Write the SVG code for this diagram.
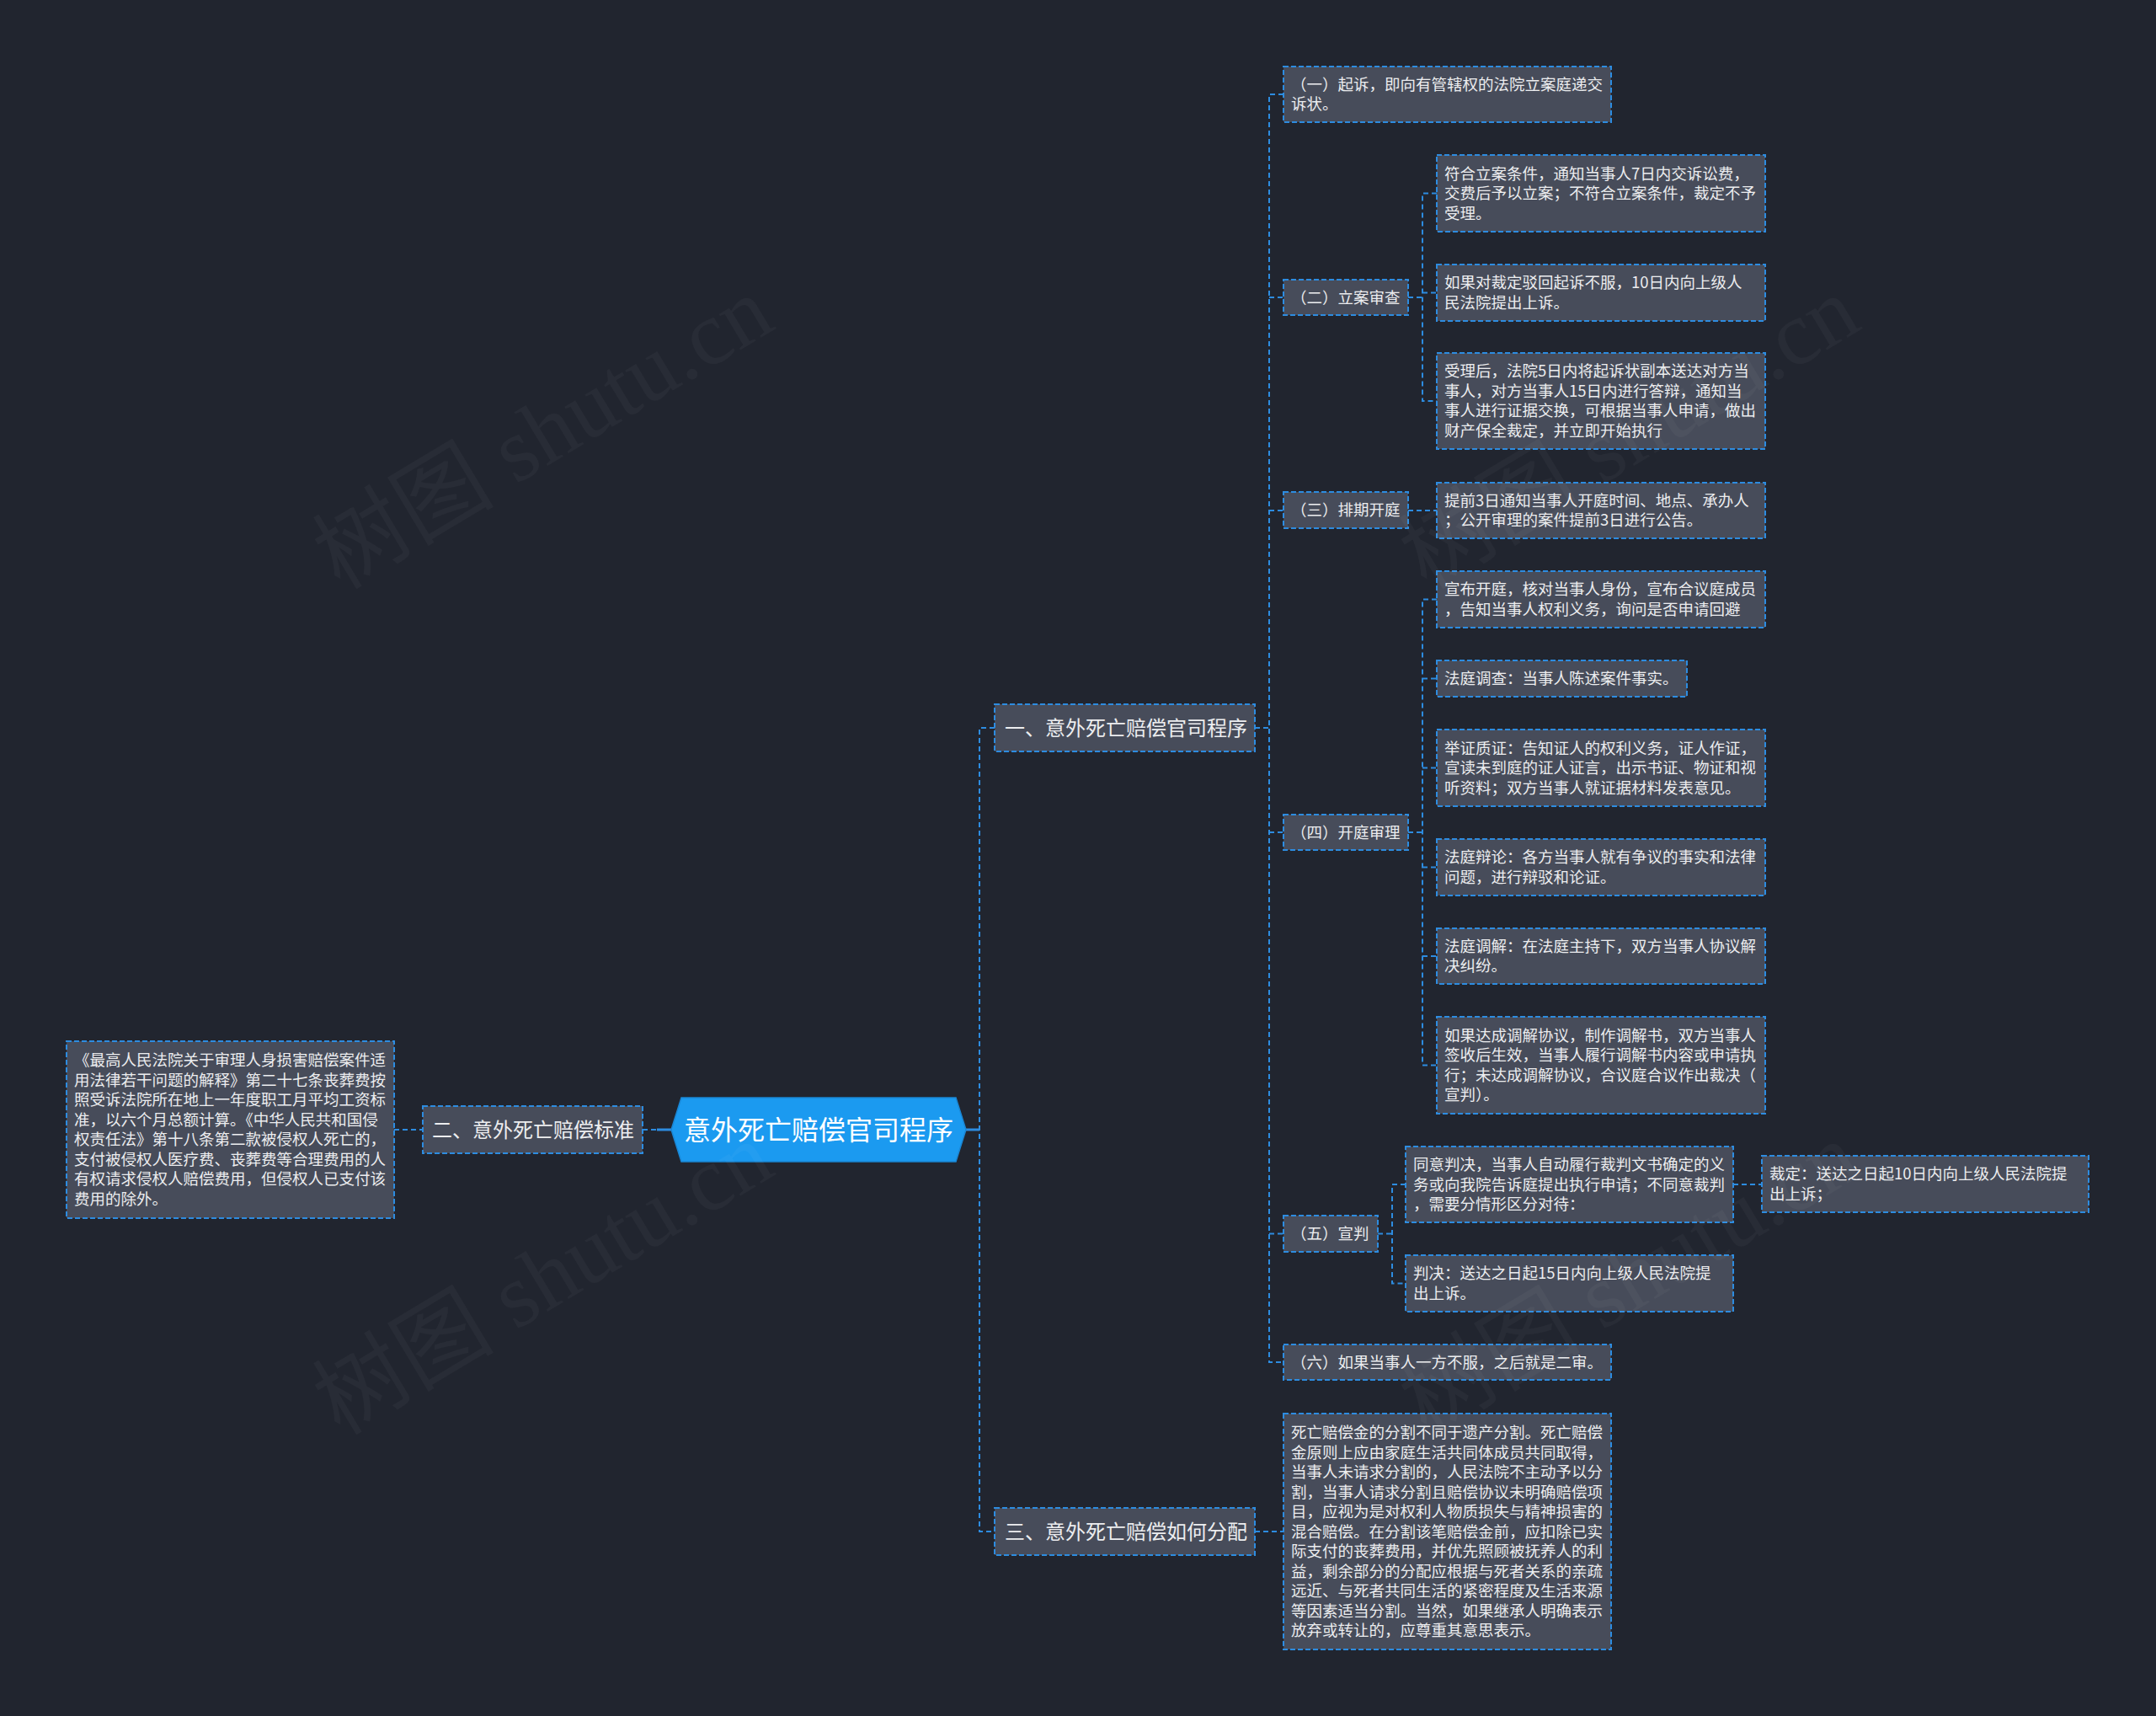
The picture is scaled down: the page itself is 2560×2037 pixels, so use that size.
<svg xmlns="http://www.w3.org/2000/svg" width="2560" height="2037" viewBox="0 0 2560 2037">
<style>
.bg{fill:#21252f}
.nd{fill:#474c5a;stroke:#2d8ce0;stroke-width:2;stroke-dasharray:6 3}
.t{font-family:"Noto Sans CJK SC","Microsoft YaHei",sans-serif;font-size:18.5px;fill:#ecedef}
.t1{font-family:"Noto Sans CJK SC","Microsoft YaHei",sans-serif;font-size:24px;fill:#ecedef}
.tr{font-family:"Noto Sans CJK SC","Microsoft YaHei",sans-serif;font-size:32px;fill:#ffffff}
.c{fill:none;stroke:#2d8ce0;stroke-width:2;stroke-dasharray:6 4}
.cs{fill:none;stroke:#2d8ce0;stroke-width:3}
.wm{font-family:"Liberation Serif","Noto Sans CJK SC",serif;font-size:108px;fill:#ffffff;fill-opacity:0.035}
</style>
<rect class="bg" x="0" y="0" width="2560" height="2037"/>

<g id="connectors">
<path class="cs" d="M780 1341H797"/>
<path class="c" d="M763 1341H780"/>
<path class="c" d="M468 1341H502"/>
<path class="cs" d="M1147 1341H1163"/>
<path class="c" d="M1181 864H1163V1818H1181"/>
<path class="c" d="M1490 864H1507"/>
<path class="c" d="M1524 112H1507V1617H1524"/>
<path class="c" d="M1507 353H1524M1507 606H1524M1507 988H1524M1507 1464.5H1524"/>
<path class="c" d="M1672 353H1689"/>
<path class="c" d="M1706 229.5H1689V476H1706M1689 347.5H1706"/>
<path class="c" d="M1672 606H1706"/>
<path class="c" d="M1672 988H1689"/>
<path class="c" d="M1706 711.5H1689V1264.5H1706M1689 805.5H1706M1689 911.5H1706M1689 1029.5H1706M1689 1135H1706"/>
<path class="c" d="M1636 1464.5H1653"/>
<path class="c" d="M1669 1406H1653V1523.5H1669"/>
<path class="c" d="M2058 1406H2092"/>
<path class="c" d="M1490 1818H1524"/>
</g>

<g id="root">
<polygon points="809,1303 1135,1303 1147,1341 1135,1379 809,1379 797,1341" fill="#1b9af0" stroke="#1a86d4" stroke-width="1.5"/>
<text class="tr" x="972" y="1353" text-anchor="middle">意外死亡赔偿官司程序</text>
</g>

<g id="n-b1">
<rect class="nd" x="1181" y="836" width="309" height="56"/>
<text class="t1" x="1193" y="873">一、意外死亡赔偿官司程序</text>
</g>
<g id="n-b2">
<rect class="nd" x="502" y="1313" width="261" height="56"/>
<text class="t1" x="513" y="1350">二、意外死亡赔偿标准</text>
</g>
<g id="n-b3">
<rect class="nd" x="1181" y="1790" width="309" height="56"/>
<text class="t1" x="1193" y="1827">三、意外死亡赔偿如何分配</text>
</g>

<g id="n-b2-1">
<rect class="nd" x="79" y="1236" width="389" height="210"/>
<text class="t"><tspan x="88" y="1265.25">《最高人民法院关于审理人身损害赔偿案件适</tspan><tspan x="88" y="1288.75">用法律若干问题的解释》第二十七条丧葬费按</tspan><tspan x="88" y="1312.25">照受诉法院所在地上一年度职工月平均工资标</tspan><tspan x="88" y="1335.75">准，以六个月总额计算。《中华人民共和国侵</tspan><tspan x="88" y="1359.25">权责任法》第十八条第二款被侵权人死亡的，</tspan><tspan x="88" y="1382.75">支付被侵权人医疗费、丧葬费等合理费用的人</tspan><tspan x="88" y="1406.25">有权请求侵权人赔偿费用，但侵权人已支付该</tspan><tspan x="88" y="1429.75">费用的除外。</tspan></text>
</g>

<g id="n-b3-1">
<rect class="nd" x="1524" y="1678" width="389" height="280"/>
<text class="t"><tspan x="1533" y="1707">死亡赔偿金的分割不同于遗产分割。死亡赔偿</tspan><tspan x="1533" y="1730.5">金原则上应由家庭生活共同体成员共同取得，</tspan><tspan x="1533" y="1754">当事人未请求分割的，人民法院不主动予以分</tspan><tspan x="1533" y="1777.5">割，当事人请求分割且赔偿协议未明确赔偿项</tspan><tspan x="1533" y="1801">目，应视为是对权利人物质损失与精神损害的</tspan><tspan x="1533" y="1824.5">混合赔偿。在分割该笔赔偿金前，应扣除已实</tspan><tspan x="1533" y="1848">际支付的丧葬费用，并优先照顾被抚养人的利</tspan><tspan x="1533" y="1871.5">益，剩余部分的分配应根据与死者关系的亲疏</tspan><tspan x="1533" y="1895">远近、与死者共同生活的紧密程度及生活来源</tspan><tspan x="1533" y="1918.5">等因素适当分割。当然，如果继承人明确表示</tspan><tspan x="1533" y="1942">放弃或转让的，应尊重其意思表示。</tspan></text>
</g>

<g id="n-1">
<rect class="nd" x="1524" y="79" width="389" height="66"/>
<text class="t"><tspan x="1533" y="106.75">（一）起诉，即向有管辖权的法院立案庭递交</tspan><tspan x="1533" y="130.25">诉状。</tspan></text>
</g>
<g id="n-2">
<rect class="nd" x="1524" y="332" width="148" height="42"/>
<text class="t" x="1533" y="359.5">（二）立案审查</text>
</g>
<g id="n-2-1">
<rect class="nd" x="1706" y="184" width="390" height="91"/>
<text class="t"><tspan x="1715" y="212.5">符合立案条件，通知当事人7日内交诉讼费，</tspan><tspan x="1715" y="236">交费后予以立案；不符合立案条件，裁定不予</tspan><tspan x="1715" y="259.5">受理。</tspan></text>
</g>
<g id="n-2-2">
<rect class="nd" x="1706" y="314" width="390" height="67"/>
<text class="t"><tspan x="1715" y="342.25">如果对裁定驳回起诉不服，10日内向上级人</tspan><tspan x="1715" y="365.75">民法院提出上诉。</tspan></text>
</g>
<g id="n-2-3">
<rect class="nd" x="1706" y="419" width="390" height="114"/>
<text class="t"><tspan x="1715" y="447.25">受理后，法院5日内将起诉状副本送达对方当</tspan><tspan x="1715" y="470.75">事人，对方当事人15日内进行答辩，通知当</tspan><tspan x="1715" y="494.25">事人进行证据交换，可根据当事人申请，做出</tspan><tspan x="1715" y="517.75">财产保全裁定，并立即开始执行</tspan></text>
</g>
<g id="n-3">
<rect class="nd" x="1524" y="584" width="148" height="43"/>
<text class="t" x="1533" y="612">（三）排期开庭</text>
</g>
<g id="n-3-1">
<rect class="nd" x="1706" y="573" width="390" height="66"/>
<text class="t"><tspan x="1715" y="600.75">提前3日通知当事人开庭时间、地点、承办人</tspan><tspan x="1715" y="624.25">；公开审理的案件提前3日进行公告。</tspan></text>
</g>
<g id="n-4">
<rect class="nd" x="1524" y="967" width="148" height="42"/>
<text class="t" x="1533" y="994.5">（四）开庭审理</text>
</g>
<g id="n-4-1">
<rect class="nd" x="1706" y="678" width="390" height="67"/>
<text class="t"><tspan x="1715" y="706.25">宣布开庭，核对当事人身份，宣布合议庭成员</tspan><tspan x="1715" y="729.75">，告知当事人权利义务，询问是否申请回避</tspan></text>
</g>
<g id="n-4-2">
<rect class="nd" x="1706" y="784" width="297" height="43"/>
<text class="t" x="1715" y="812">法庭调查：当事人陈述案件事实。</text>
</g>
<g id="n-4-3">
<rect class="nd" x="1706" y="866" width="390" height="91"/>
<text class="t"><tspan x="1715" y="894.5">举证质证：告知证人的权利义务，证人作证，</tspan><tspan x="1715" y="918">宣读未到庭的证人证言，出示书证、物证和视</tspan><tspan x="1715" y="941.5">听资料；双方当事人就证据材料发表意见。</tspan></text>
</g>
<g id="n-4-4">
<rect class="nd" x="1706" y="996" width="390" height="67"/>
<text class="t"><tspan x="1715" y="1024.25">法庭辩论：各方当事人就有争议的事实和法律</tspan><tspan x="1715" y="1047.75">问题，进行辩驳和论证。</tspan></text>
</g>
<g id="n-4-5">
<rect class="nd" x="1706" y="1102" width="390" height="66"/>
<text class="t"><tspan x="1715" y="1129.75">法庭调解：在法庭主持下，双方当事人协议解</tspan><tspan x="1715" y="1153.25">决纠纷。</tspan></text>
</g>
<g id="n-4-6">
<rect class="nd" x="1706" y="1207" width="390" height="115"/>
<text class="t"><tspan x="1715" y="1235.75">如果达成调解协议，制作调解书，双方当事人</tspan><tspan x="1715" y="1259.25">签收后生效，当事人履行调解书内容或申请执</tspan><tspan x="1715" y="1282.75">行；未达成调解协议，合议庭合议作出裁决（</tspan><tspan x="1715" y="1306.25">宣判）。</tspan></text>
</g>
<g id="n-5">
<rect class="nd" x="1524" y="1443" width="112" height="43"/>
<text class="t" x="1533" y="1471">（五）宣判</text>
</g>
<g id="n-5-1">
<rect class="nd" x="1669" y="1361" width="389" height="90"/>
<text class="t"><tspan x="1678" y="1389">同意判决，当事人自动履行裁判文书确定的义</tspan><tspan x="1678" y="1412.5">务或向我院告诉庭提出执行申请；不同意裁判</tspan><tspan x="1678" y="1436">，需要分情形区分对待：</tspan></text>
</g>
<g id="n-5-1-1">
<rect class="nd" x="2092" y="1372" width="388" height="67"/>
<text class="t"><tspan x="2101" y="1400.25">裁定：送达之日起10日内向上级人民法院提</tspan><tspan x="2101" y="1423.75">出上诉；</tspan></text>
</g>
<g id="n-5-2">
<rect class="nd" x="1669" y="1490" width="389" height="67"/>
<text class="t"><tspan x="1678" y="1518.25">判决：送达之日起15日内向上级人民法院提</tspan><tspan x="1678" y="1541.75">出上诉。</tspan></text>
</g>
<g id="n-6">
<rect class="nd" x="1524" y="1596" width="389" height="42"/>
<text class="t" x="1533" y="1623.5">（六）如果当事人一方不服，之后就是二审。</text>
</g>

<g id="watermarks">
<text class="wm" x="645" y="550" text-anchor="middle" transform="rotate(-31 645 514)">树图 shutu.cn</text>
<text class="wm" x="645" y="1554" text-anchor="middle" transform="rotate(-31 645 1518)">树图 shutu.cn</text>
<text class="wm" x="1935" y="550" text-anchor="middle" transform="rotate(-31 1935 514)">树图 shutu.cn</text>
<text class="wm" x="1935" y="1554" text-anchor="middle" transform="rotate(-31 1935 1518)">树图 shutu.cn</text>
</g>
</svg>
